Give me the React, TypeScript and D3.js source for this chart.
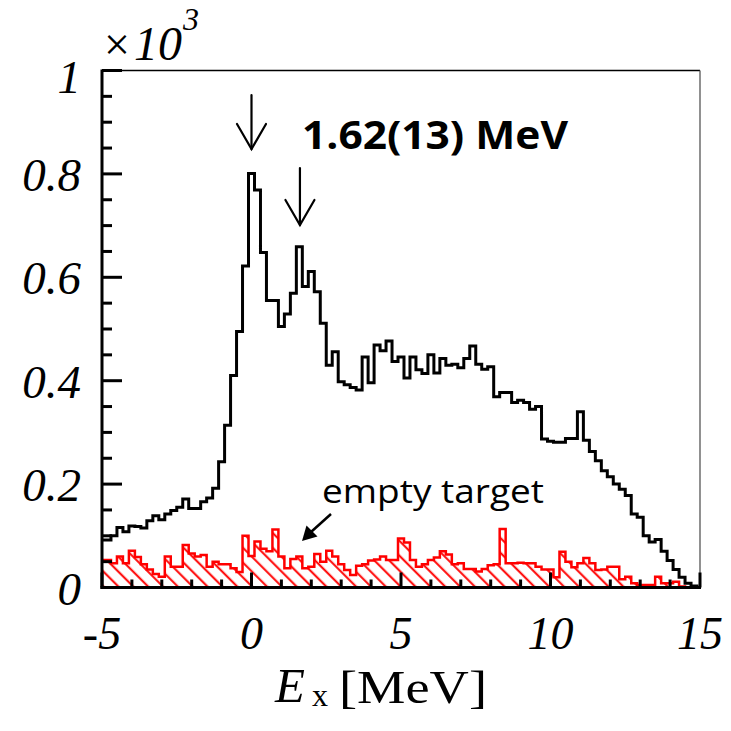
import React from 'react';
import * as d3 from 'd3';

// Excitation-energy spectrum, counts per 0.2 MeV bin in units of 10^3.
// Bins are centred on -5.0, -4.8, ..., 15.0 (the outermost two are half bins).
const X_DOMAIN: [number, number] = [-5, 15];
const Y_DOMAIN: [number, number] = [0, 1];
const BIN_WIDTH = 0.2;

const fullTarget = [
  0.092, 0.092, 0.100, 0.116, 0.108, 0.119, 0.118, 0.115, 0.129, 0.139,
  0.131, 0.142, 0.149, 0.155, 0.171, 0.153, 0.153, 0.166, 0.173, 0.192,
  0.243, 0.314, 0.410, 0.495, 0.622, 0.801, 0.769, 0.648, 0.555, 0.555,
  0.505, 0.529, 0.569, 0.659, 0.582, 0.611, 0.572, 0.511, 0.430, 0.456,
  0.398, 0.392, 0.387, 0.382, 0.446, 0.396, 0.469, 0.458, 0.477, 0.437,
  0.446, 0.405, 0.446, 0.421, 0.414, 0.450, 0.415, 0.443, 0.430, 0.432,
  0.425, 0.443, 0.467, 0.432, 0.422, 0.427, 0.369, 0.377, 0.377, 0.358,
  0.362, 0.358, 0.345, 0.350, 0.287, 0.283, 0.281, 0.281, 0.288, 0.288,
  0.340, 0.285, 0.263, 0.245, 0.226, 0.214, 0.200, 0.190, 0.178, 0.142,
  0.136, 0.100, 0.088, 0.093, 0.070, 0.052, 0.035, 0.020, 0.008, 0.003,
  0.000,
];

const emptyTarget = [
  0.053, 0.053, 0.047, 0.060, 0.047, 0.071, 0.059, 0.045, 0.035, 0.026,
  0.021, 0.060, 0.040, 0.040, 0.082, 0.066, 0.060, 0.063, 0.040, 0.050,
  0.045, 0.045, 0.037, 0.030, 0.100, 0.061, 0.089, 0.075, 0.070, 0.112,
  0.060, 0.037, 0.055, 0.060, 0.037, 0.040, 0.065, 0.050, 0.071, 0.060,
  0.045, 0.034, 0.024, 0.042, 0.045, 0.052, 0.054, 0.060, 0.053, 0.053,
  0.095, 0.087, 0.053, 0.040, 0.045, 0.053, 0.058, 0.070, 0.064, 0.045,
  0.047, 0.036, 0.036, 0.031, 0.036, 0.043, 0.045, 0.113, 0.047, 0.047,
  0.048, 0.047, 0.047, 0.040, 0.035, 0.035, 0.020, 0.069, 0.050, 0.039,
  0.047, 0.057, 0.047, 0.034, 0.035, 0.040, 0.040, 0.016, 0.021, 0.008,
  0.005, 0.005, 0.005, 0.021, 0.008, 0.008, 0.011, 0.002, 0.000, 0.000,
  0.000,
];

const xMajorTicks = [-5, 0, 5, 10, 15];
const xTickLabels = ['-5', '0', '5', '10', '15'];
const yMajorTicks = [0, 0.2, 0.4, 0.6, 0.8, 1];
const yTickLabels = ['0', '0.2', '0.4', '0.6', '0.8', '1'];
const peakEnergies = [0, 1.62];
const peakLabel = '1.62(13) MeV';
const bgLabel = 'empty target';

const W = 731;
const H = 731;
const M = { left: 102, right: 700, top: 70.5, bottom: 587.5 };

const x = d3.scaleLinear().domain(X_DOMAIN).range([M.left, M.right]);
const y = d3.scaleLinear().domain(Y_DOMAIN).range([M.bottom, M.top]);

type Pt = [number, number];

// left edge of every bin (clipped to the axis range) plus the closing point
function stepPoints(values: number[]): Pt[] {
  const pts: Pt[] = values.map((v, k) => {
    const lo = Math.max(X_DOMAIN[0], X_DOMAIN[0] + k * BIN_WIDTH - BIN_WIDTH / 2);
    return [lo, v];
  });
  pts.push([X_DOMAIN[1], values[values.length - 1]]);
  return pts;
}

const stepLine = d3
  .line<Pt>()
  .x((d) => x(d[0]))
  .y((d) => y(d[1]))
  .curve(d3.curveStepAfter);

const stepArea = d3
  .area<Pt>()
  .x((d) => x(d[0]))
  .y0(y(0))
  .y1((d) => y(d[1]))
  .curve(d3.curveStepAfter);

const xMinor = d3.range(X_DOMAIN[0], X_DOMAIN[1] + 0.001, 1);
const yMinor = d3.range(0, 1.0001, 0.05);

const SERIF = "'Liberation Serif', 'Times New Roman', serif";
const SANS = "'Open Sans', 'Liberation Sans', sans-serif";

function DownArrow({ cx, top, tip }: { cx: number; top: number; tip: number }) {
  const wing = 25;
  const half = 14.5;
  return (
    <g stroke="#000" strokeWidth={2.2} fill="none" strokeLinecap="round">
      <line x1={cx} y1={top} x2={cx} y2={tip} />
      <polyline points={`${cx - half},${tip - wing} ${cx},${tip} ${cx + half},${tip - wing}`} />
    </g>
  );
}

export default function App() {
  const fullPts = stepPoints(fullTarget);
  const emptyPts = stepPoints(emptyTarget);

  return (
    <svg
      width={W}
      height={H}
      viewBox={`0 0 ${W} ${H}`}
      style={{ position: 'absolute', left: 0, top: 0, background: '#fff' }}
    >
      <defs>
        <pattern
          id="hatch"
          patternUnits="userSpaceOnUse"
          width={10.5}
          height={10.5}
          patternTransform="rotate(-45)"
        >
          <line x1={5} y1={0} x2={5} y2={10.5} stroke="#ff0000" strokeWidth={2} />
        </pattern>
        <clipPath id="plotArea">
          <rect x={M.left} y={M.top} width={M.right - M.left} height={M.bottom - M.top} />
        </clipPath>
      </defs>

      <rect x={0} y={0} width={W} height={H} fill="#fff" />

      {/* frame */}
      <line x1={M.left} y1={M.top} x2={M.right} y2={M.top} stroke="#000" strokeWidth={1.3} />
      <line x1={M.right} y1={M.top} x2={M.right} y2={M.bottom} stroke="#555" strokeWidth={1.3} />

      {/* histograms */}
      <g clipPath="url(#plotArea)">
        <path d={stepArea(emptyPts) ?? ''} fill="url(#hatch)" stroke="none" />
        <path d={stepLine(fullPts) ?? ''} fill="none" stroke="#000" strokeWidth={3} />
        <path d={stepLine(emptyPts) ?? ''} fill="none" stroke="#ff0000" strokeWidth={2.5} />
      </g>

      {/* y axis */}
      <g stroke="#000" strokeWidth={3}>
        {yMinor.map((t) => {
          const major = yMajorTicks.some((m) => Math.abs(m - t) < 1e-6);
          return (
            <line
              key={`ym${t}`}
              x1={M.left}
              x2={M.left + (major ? 20 : 10)}
              y1={y(t)}
              y2={y(t)}
            />
          );
        })}
        <line x1={M.left} y1={M.top - 1} x2={M.left} y2={M.bottom + 1.5} />
      </g>
      {yMajorTicks.map((t, i) => (
        <text
          key={`yl${t}`}
          x={81}
          y={y(t) + (t === 1 ? 22 : 17)}
          textAnchor="end"
          fontFamily={SERIF}
          fontStyle="italic"
          fontSize={47}
          fill="#000"
        >
          {yTickLabels[i]}
        </text>
      ))}

      {/* x axis */}
      <g stroke="#000" strokeWidth={3}>
        {xMinor.map((t) => {
          const major = xMajorTicks.includes(t);
          return (
            <line
              key={`xm${t}`}
              x1={x(t)}
              x2={x(t)}
              y1={M.bottom}
              y2={M.bottom - (major ? 15 : 8)}
            />
          );
        })}
        <line x1={M.left - 1.5} y1={M.bottom} x2={M.right + 1} y2={M.bottom} />
      </g>
      {xMajorTicks.map((t, i) => (
        <text
          key={`xl${t}`}
          x={x(t)}
          y={649}
          textAnchor="middle"
          fontFamily={SERIF}
          fontStyle="italic"
          fontSize={46}
          fill="#000"
        >
          {xTickLabels[i]}
        </text>
      ))}

      {/* axis titles */}
      <text x={275} y={702} fontFamily={SERIF} fontStyle="italic" fontSize={49} fill="#000">
        E
      </text>
      <text x={312} y={706} fontFamily={SERIF} fontSize={32} fill="#000">
        x
      </text>
      <text x={339} y={703} fontFamily={SERIF} fontSize={47} fill="#000" textLength={148} lengthAdjust="spacingAndGlyphs">
        [MeV]
      </text>
      <text x={104} y={60} fontFamily={SERIF} fontSize={46} fill="#000">
        ×
      </text>
      <text x={134} y={60} fontFamily={SERIF} fontStyle="italic" fontSize={48} fill="#000">
        10
      </text>
      <text x={183} y={30} fontFamily={SERIF} fontStyle="italic" fontSize={32} fill="#000">
        3
      </text>

      {/* peak markers */}
      <DownArrow cx={x(peakEnergies[0])} top={95} tip={149} />
      <DownArrow cx={x(peakEnergies[1])} top={168} tip={225} />
      <text
        x={302}
        y={149}
        fontFamily={SANS}
        fontWeight={700}
        fontSize={39}
        fill="#000"
        textLength={266}
        lengthAdjust="spacingAndGlyphs"
      >
        {peakLabel}
      </text>

      {/* background label */}
      <text
        x={322}
        y={503}
        fontFamily={SANS}
        fontSize={32}
        fill="#000"
        textLength={222}
        lengthAdjust="spacingAndGlyphs"
      >
        {bgLabel}
      </text>
      <line x1={331} y1={514} x2={311} y2={532} stroke="#000" strokeWidth={2.5} />
      <path d="M302,541 L306.5,525.5 L317.5,536.5 Z" fill="#000" />
    </svg>
  );
}
